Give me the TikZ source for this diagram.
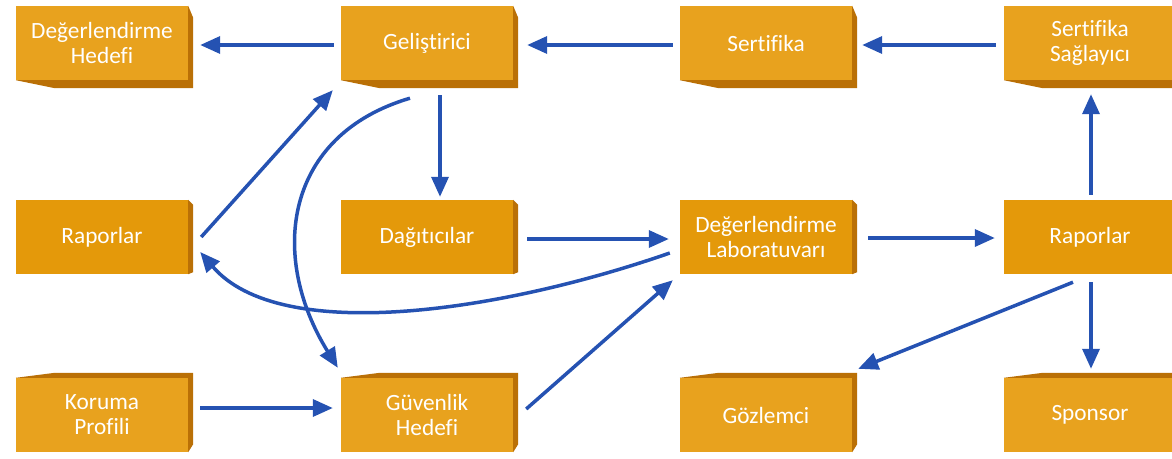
\documentclass[tikz,border=0pt]{standalone}
\usepackage{fontspec}
\setmainfont{Carlito}[Ligatures=NoCommon]
\usetikzlibrary{arrows.meta}

\definecolor{facelt}{RGB}{232,162,30}
\definecolor{facemd}{RGB}{228,153,10}
\definecolor{deep}{RGB}{186,112,6}
\definecolor{arrblue}{RGB}{37,82,178}

\begin{document}
\begin{tikzpicture}[x=1pt, y=-1pt, > = {Triangle[length=20pt,width=17pt]},
	box/.style = {fill=facelt, text=white, minimum width=172pt, minimum height=74pt, inner sep=0pt, align=center, font=\fontsize{23.3}{25}\selectfont},
	midbox/.style = {box, fill=facemd},
	arr/.style = {->, arrblue, line width=3.5pt}]
	\useasboundingbox (0,0) rectangle (1172,458);

	% top row
	\node[box] (dht) at (102,43) {Değerlendirme\\Hedefi};
	\node[box] (gel) at (427,43) {Geliştirici};
	\node[box] (ser) at (766,43) {Sertifika};
	\node[box] (ssg) at (1090,43) {Sertifika\\Sağlayıcı};
	% middle row
	\node[midbox] (rapL) at (102,237) {Raporlar};
	\node[midbox] (dag) at (427,237) {Dağıtıcılar};
	\node[midbox] (lab) at (766,237) {Değerlendirme\\Laboratuvarı};
	\node[midbox] (rapR) at (1090,237) {Raporlar};
	% bottom row
	\node[box] (kor) at (102,415) {Koruma\\Profili};
	\node[box] (guv) at (427,415) {Güvenlik\\Hedefi};
	\node[box] (goz) at (766,415) {Gözlemci};
	\node[box] (spo) at (1090,415) {Sponsor};

	% dark edges of the boxes
	\foreach \n in {dht,gel,ser,ssg}
		\fill[deep] (\n.south west) -- ([xshift=39pt,yshift=-8pt]\n.south west) -- ([xshift=5pt,yshift=-8pt]\n.south east)
			-- ([xshift=5pt,yshift=-12pt]\n.north east) -- (\n.north east) -- (\n.south east) -- cycle;
	\foreach \n in {rapL,dag,lab,rapR}
		\fill[deep] (\n.north east) -- ([xshift=5pt,yshift=-5pt]\n.north east) -- ([xshift=5pt,yshift=2pt]\n.south east) -- (\n.south east) -- cycle;
	\foreach \n in {kor,guv,goz,spo}
		\fill[deep] (\n.north west) -- ([xshift=39pt,yshift=5pt]\n.north west) -- ([xshift=5pt,yshift=5pt]\n.north east)
			-- ([xshift=5pt,yshift=8pt]\n.south east) -- (\n.south east) -- (\n.north east) -- cycle;

	% horizontal arrows, top row
	\draw[arr] ([xshift=-7pt,yshift=-2pt]gel.west) -- ([xshift=12pt,yshift=-2pt]dht.east);
	\draw[arr] ([xshift=-7pt,yshift=-2pt]ser.west) -- ([xshift=14pt,yshift=-2pt]gel.east);
	\draw[arr] ([xshift=-8pt,yshift=-2pt]ssg.west) -- ([xshift=10pt,yshift=-2pt]ser.east);

	\draw[arr] ([xshift=13pt,yshift=-15pt]gel.south) -- ([xshift=13pt,yshift=3pt]dag.north);
	\draw[arr] ([xshift=13pt]rapL.east) -- ([xshift=-8pt,yshift=-10pt]gel.south west);
	\draw[arr] ([xshift=-17pt,yshift=-18pt]gel.south) .. controls (285,135) and (268,255) .. ([xshift=-3pt,yshift=10pt]guv.north west);

	\draw[arr] ([xshift=14pt,yshift=-2pt]dag.east) -- ([xshift=-11pt,yshift=-2pt]lab.west);
	\draw[arr] ([xshift=-10pt,yshift=-16pt]lab.west) .. controls (500,312) and (280,345) .. ([xshift=12pt,yshift=-15pt]rapL.east);
	\draw[arr] ([xshift=13pt,yshift=6pt]guv.east) -- ([xshift=-7pt,yshift=-6pt]lab.south west);
	\draw[arr] ([xshift=12pt,yshift=7pt]kor.east) -- ([xshift=-8pt,yshift=7pt]guv.west);

	\draw[arr] ([xshift=16pt,yshift=-1pt]lab.east) -- ([xshift=-9pt,yshift=-1pt]rapR.west);
	\draw[arr] ([xshift=1pt,yshift=5pt]rapR.north) -- ([xshift=1pt,yshift=-14pt]ssg.south);
	\draw[arr] ([xshift=1pt,yshift=-8pt]rapR.south) -- ([xshift=1pt,yshift=9pt]spo.north);
	\draw[arr] ([xshift=-17pt,yshift=-8pt]rapR.south) -- ([xshift=6pt,yshift=9pt]goz.north east);
\end{tikzpicture}
\end{document}
